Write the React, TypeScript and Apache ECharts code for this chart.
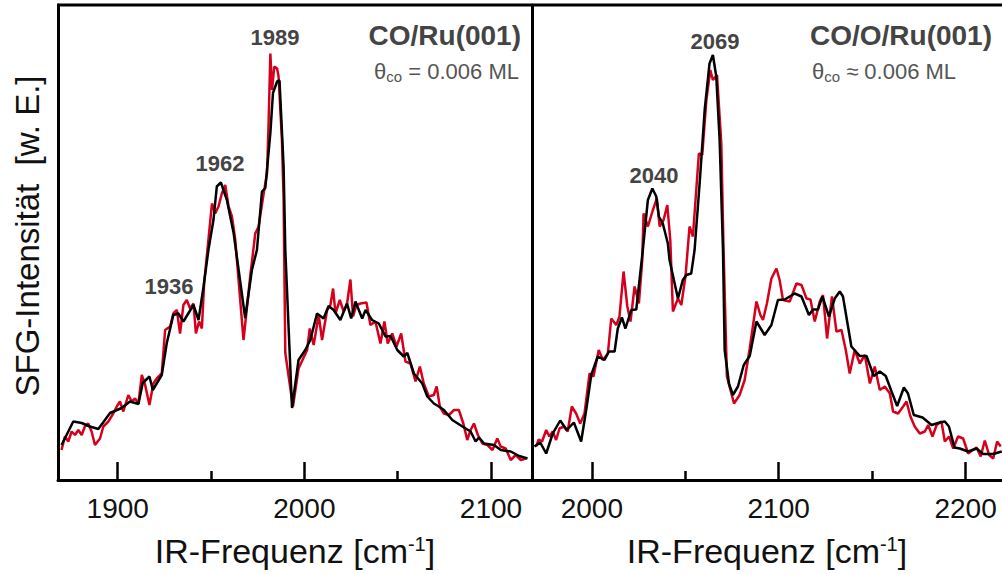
import { useEffect, useRef } from "react";
import * as echarts from "echarts";

const FONT = "'Liberation Sans', Arial, Helvetica, sans-serif";

// Left panel: CO/Ru(001)  [wavenumber cm^-1, SFG intensity a.u.]
const leftRange = [1868, 2122];
const leftMajor = [1900, 2000, 2100];
const leftMinor = [1950, 2050];
const leftRed: [number, number][] = [
  [1869.9, 6.0], [1871.7, 8.7], [1873.5, 7.7], [1875.3, 9.7], [1877.1, 9.0], [1878.9, 10.0],
  [1880.7, 9.0], [1882.4, 10.7], [1884.2, 11.3], [1886.0, 9.7], [1887.8, 7.0], [1890.5, 8.3],
  [1892.3, 10.7], [1895.0, 11.7], [1897.6, 13.3], [1899.5, 14.7], [1901.2, 15.7], [1903.0, 13.7],
  [1905.7, 17.0], [1907.5, 15.7], [1909.3, 16.3], [1911.1, 15.3], [1912.9, 21.0], [1914.7, 19.0],
  [1917.0, 15.0], [1919.1, 19.3], [1920.9, 20.3], [1923.6, 21.3], [1925.4, 30.0], [1928.1, 30.7],
  [1929.8, 33.3], [1931.7, 34.0], [1933.4, 29.3], [1935.2, 35.0], [1937.0, 36.0], [1938.8, 34.3],
  [1940.6, 35.3], [1941.9, 29.3], [1943.6, 31.7], [1945.1, 30.3], [1946.3, 39.3], [1947.8, 45.0],
  [1950.5, 55.3], [1952.2, 53.3], [1954.0, 54.7], [1955.8, 57.3], [1957.6, 59.0], [1959.4, 54.7],
  [1961.2, 52.7], [1963.0, 48.0], [1967.4, 28.0], [1971.0, 40.7], [1973.7, 49.3], [1975.5, 50.7],
  [1978.2, 57.3], [1980.0, 61.3], [1980.8, 70.7], [1981.8, 85.3], [1982.7, 78.0], [1983.9, 82.7],
  [1985.4, 82.3], [1986.2, 80.7], [1988.0, 68.0], [1988.9, 56.0], [1989.8, 25.4], [1993.9, 14.7],
  [1996.9, 22.3], [2001.5, 26.0], [2002.9, 30.3], [2005.0, 27.0], [2007.7, 33.0], [2009.5, 28.0],
  [2012.2, 34.0], [2014.0, 35.0], [2015.4, 38.3], [2016.7, 33.3], [2019.0, 36.0], [2021.1, 33.7],
  [2022.9, 35.3], [2024.7, 40.1], [2026.1, 32.7], [2027.9, 35.0], [2030.1, 35.3], [2033.3, 35.5],
  [2035.4, 31.0], [2038.1, 31.7], [2040.8, 27.3], [2042.9, 31.7], [2044.7, 27.3], [2047.1, 29.3],
  [2049.4, 26.7], [2051.9, 29.3], [2054.2, 23.7], [2056.9, 23.3], [2059.6, 19.7], [2061.9, 22.7],
  [2064.0, 19.3], [2066.7, 16.7], [2069.4, 17.0], [2070.9, 18.7], [2072.6, 14.7], [2074.8, 13.3],
  [2077.5, 13.0], [2080.2, 14.0], [2082.8, 14.0], [2085.2, 11.3], [2087.3, 8.0], [2089.1, 10.0],
  [2090.9, 11.3], [2093.0, 9.0], [2095.4, 7.3], [2098.1, 7.0], [2100.8, 6.0], [2103.4, 8.3],
  [2105.2, 6.7], [2107.9, 6.3], [2110.6, 4.0], [2113.3, 5.0], [2116.0, 4.0], [2118.7, 4.3],
];
const leftBlack: [number, number][] = [
  [1869.9, 7.0], [1876.2, 11.7], [1880.7, 11.4], [1885.1, 10.7], [1889.6, 10.2], [1895.9, 13.4],
  [1902.1, 14.4], [1906.6, 15.7], [1911.1, 15.2], [1913.4, 19.4], [1917.0, 20.7], [1918.8, 18.0],
  [1923.6, 21.0], [1926.3, 27.4], [1929.8, 33.0], [1932.5, 33.3], [1935.2, 31.7], [1940.6, 35.0],
  [1943.3, 32.0], [1946.0, 38.7], [1948.6, 46.0], [1951.3, 52.0], [1953.1, 58.7], [1955.3, 59.5],
  [1958.5, 56.0], [1962.1, 49.4], [1968.3, 32.4], [1971.9, 42.0], [1974.6, 46.0], [1977.3, 57.7],
  [1979.1, 58.4], [1981.8, 69.4], [1983.2, 77.4], [1985.4, 79.7], [1986.7, 79.9], [1988.9, 62.7],
  [1989.8, 46.0], [1993.4, 14.4], [1996.9, 24.0], [2000.5, 26.0], [2003.2, 28.0], [2006.8, 33.3],
  [2010.3, 32.3], [2013.0, 34.8], [2015.7, 34.0], [2019.3, 32.0], [2022.9, 35.3], [2025.1, 32.3],
  [2027.4, 35.7], [2031.0, 32.3], [2032.8, 34.0], [2036.3, 32.0], [2039.9, 31.3], [2043.5, 28.7],
  [2046.2, 28.8], [2049.8, 26.0], [2053.3, 24.7], [2055.2, 25.4], [2058.7, 21.3], [2063.2, 19.3],
  [2065.9, 16.7], [2069.4, 15.3], [2072.1, 14.7], [2074.8, 14.0], [2079.3, 12.0], [2084.7, 10.7],
  [2089.1, 9.7], [2091.8, 7.7], [2093.6, 8.5], [2096.3, 7.3], [2101.6, 7.0], [2105.3, 6.0],
  [2110.6, 5.7], [2115.1, 4.8], [2119.6, 4.3],
];

// Right panel: CO/O/Ru(001)
const rightRange = [1968, 2219.5];
const rightMajor = [2000, 2100, 2200];
const rightMinor = [2050, 2150];
const rightRed: [number, number][] = [
  [1970.2, 6.7], [1971.6, 8.1], [1973.4, 7.7], [1975.6, 10.0], [1977.3, 8.7], [1979.1, 9.7],
  [1980.9, 8.0], [1982.7, 10.3], [1985.0, 10.7], [1987.1, 9.7], [1989.3, 14.7], [1991.6, 13.3],
  [1993.8, 11.3], [1996.1, 13.3], [1998.8, 21.3], [2000.9, 20.7], [2003.7, 26.0], [2005.9, 24.0],
  [2008.6, 25.3], [2010.4, 32.3], [2013.1, 31.0], [2014.8, 32.7], [2017.0, 41.7], [2019.0, 34.7],
  [2020.7, 31.7], [2022.9, 38.7], [2025.2, 35.3], [2027.0, 44.0], [2027.7, 53.3], [2030.0, 50.7],
  [2032.7, 54.0], [2034.8, 56.3], [2036.3, 50.7], [2038.4, 52.0], [2040.4, 55.0], [2042.0, 48.0],
  [2043.4, 33.7], [2046.1, 36.3], [2047.9, 35.0], [2050.2, 41.0], [2052.3, 50.7], [2054.1, 48.7],
  [2057.3, 65.3], [2059.1, 65.0], [2061.3, 76.0], [2063.4, 82.0], [2064.8, 80.0], [2067.0, 81.0],
  [2069.3, 67.3], [2070.5, 46.0], [2072.3, 20.7], [2076.1, 15.3], [2079.1, 17.0], [2081.8, 20.0],
  [2084.5, 26.3], [2088.1, 35.7], [2090.2, 33.0], [2091.6, 32.0], [2093.7, 35.3], [2096.1, 40.3],
  [2098.8, 42.3], [2100.5, 40.0], [2102.3, 36.0], [2105.9, 35.7], [2109.5, 39.3], [2112.2, 39.0],
  [2114.9, 36.3], [2117.0, 36.1], [2119.3, 31.7], [2122.0, 35.7], [2123.7, 37.0], [2125.9, 28.3],
  [2128.5, 36.7], [2130.9, 29.7], [2133.6, 30.0], [2135.9, 26.0], [2138.0, 21.3], [2140.7, 26.0],
  [2143.4, 23.3], [2146.1, 25.0], [2148.8, 19.3], [2151.4, 22.7], [2154.1, 18.0], [2156.8, 18.7],
  [2159.5, 17.3], [2161.2, 13.7], [2163.9, 13.3], [2166.6, 14.7], [2168.4, 15.7], [2170.5, 12.7],
  [2172.8, 10.7], [2175.5, 9.3], [2178.2, 9.7], [2180.0, 11.0], [2182.3, 8.7], [2184.5, 11.0],
  [2187.1, 11.7], [2188.9, 7.7], [2191.2, 8.7], [2193.4, 6.3], [2196.0, 8.7], [2198.7, 8.3],
  [2201.4, 5.3], [2203.8, 6.0], [2205.9, 6.5], [2208.1, 4.7], [2210.3, 7.9], [2212.6, 5.0],
  [2214.8, 4.3], [2216.9, 7.7], [2218.8, 6.7],
];
const rightBlack: [number, number][] = [
  [1969.3, 6.7], [1972.4, 7.5], [1975.6, 5.3], [1979.1, 9.3], [1983.1, 11.9], [1986.6, 10.0],
  [1990.4, 11.5], [1994.3, 7.7], [1997.0, 14.0], [1999.7, 21.0], [2003.2, 24.7], [2006.8, 24.0],
  [2009.1, 25.7], [2012.2, 25.7], [2013.9, 30.3], [2016.1, 32.5], [2018.0, 30.3], [2021.1, 34.0],
  [2023.8, 34.1], [2027.3, 46.0], [2030.0, 56.0], [2032.4, 58.3], [2034.5, 56.7], [2035.9, 52.7],
  [2038.0, 51.3], [2040.7, 47.3], [2041.6, 44.0], [2046.1, 36.3], [2048.7, 40.0], [2050.6, 41.0],
  [2053.2, 41.3], [2055.0, 46.0], [2057.7, 59.3], [2060.4, 74.0], [2063.0, 83.3], [2064.8, 85.0],
  [2066.6, 80.7], [2068.4, 68.0], [2070.2, 46.0], [2071.1, 26.0], [2073.4, 19.3], [2075.5, 17.0],
  [2078.2, 18.7], [2081.3, 23.0], [2084.5, 24.8], [2088.1, 31.7], [2092.5, 29.0], [2096.1, 31.0],
  [2099.6, 36.0], [2103.2, 36.1], [2108.6, 37.3], [2112.2, 36.7], [2116.2, 33.0], [2118.4, 34.1],
  [2121.0, 34.1], [2123.4, 36.7], [2126.9, 32.7], [2130.0, 36.3], [2132.7, 37.7], [2134.4, 36.7],
  [2138.9, 26.7], [2143.4, 24.8], [2147.0, 24.8], [2150.9, 20.8], [2154.1, 21.7], [2157.3, 20.8],
  [2160.4, 17.7], [2163.4, 14.8], [2167.0, 18.5], [2169.2, 17.3], [2172.3, 13.0], [2177.0, 12.5],
  [2181.8, 11.0], [2186.2, 11.5], [2188.9, 11.7], [2191.1, 10.7], [2194.1, 6.5], [2196.9, 6.3],
  [2201.4, 5.7], [2205.9, 6.3], [2209.4, 5.2], [2214.8, 5.2], [2219.4, 5.7],
];

const yMax = 95;
const RED = "#d7001c";
const TXT = "#111";
const LABEL = "#444";

const axisName = "{a|IR-Frequenz [cm}{s|-1}{a|]}";
const nameRich = {
  a: { fontSize: 34, fontFamily: FONT, color: TXT, lineHeight: 40, verticalAlign: "top" },
  s: { fontSize: 20, fontFamily: FONT, color: TXT, lineHeight: 26, verticalAlign: "top" },
};

function majorAxis(grid: number, range: number[], ticks: number[]) {
  return {
    gridIndex: grid,
    type: "value",
    position: "bottom",
    min: range[0],
    max: range[1],
    axisLine: { show: true, onZero: false, lineStyle: { color: "#000", width: 3 } },
    axisTick: { show: true, inside: true, length: 18, customValues: ticks, lineStyle: { color: "#000", width: 2.5 } },
    axisLabel: { show: true, customValues: ticks, margin: 14, fontSize: 28, color: TXT, fontFamily: FONT, formatter: (v: number) => String(v) },
    splitLine: { show: false },
    name: axisName,
    nameLocation: "middle",
    nameGap: 54,
    nameTextStyle: { rich: nameRich },
  };
}
function minorAxis(grid: number, range: number[], ticks: number[]) {
  return {
    gridIndex: grid,
    type: "value",
    position: "bottom",
    min: range[0],
    max: range[1],
    axisLine: { show: false, onZero: false },
    axisTick: { show: true, inside: true, length: 9, customValues: ticks, lineStyle: { color: "#000", width: 2.5 } },
    axisLabel: { show: false },
    splitLine: { show: false },
  };
}
function yAx(grid: number) {
  return {
    gridIndex: grid,
    type: "value",
    min: 0,
    max: yMax,
    axisLine: { show: true, lineStyle: { color: "#000", width: 3 } },
    axisTick: { show: false },
    axisLabel: { show: false },
    splitLine: { show: false },
  };
}

function peak(text: string, x: number, y: number) {
  return {
    type: "text",
    x,
    y,
    style: { text, fill: LABEL, fontSize: 22, fontWeight: "bold", fontFamily: FONT, align: "center", verticalAlign: "middle" },
  };
}

function theta(op: string, x: number, y: number, align: string) {
  return {
    type: "text",
    x,
    y,
    style: {
      text: `{t|θ}{s|co}{t|\u00a0${op} 0.006 ML}`,
      align,
      verticalAlign: "middle",
      rich: {
        t: { fontSize: 22, fontFamily: FONT, fill: "#555", lineHeight: 24, verticalAlign: "top" },
        s: { fontSize: 15, fontFamily: FONT, fill: "#555", lineHeight: 24, verticalAlign: "bottom" },
      },
    },
  };
}

export default function App() {
  const ref = useRef<HTMLDivElement>(null);
  useEffect(() => {
    const chart = echarts.init(ref.current!, null, { renderer: "svg" });
    const line = (data: [number, number][], xi: number, yi: number, color: string) => ({
      type: "line",
      xAxisIndex: xi,
      yAxisIndex: yi,
      data,
      showSymbol: false,
      symbol: "none",
      lineStyle: { color, width: 2.5 },
      silent: true,
    });
    chart.setOption({
      animation: false,
      backgroundColor: "#fff",
      grid: [
        { left: 58, top: 5, width: 474, height: 475 },
        { left: 532, top: 5, width: 470, height: 475 },
      ],
      xAxis: [
        majorAxis(0, leftRange, leftMajor),
        minorAxis(0, leftRange, leftMinor),
        majorAxis(1, rightRange, rightMajor),
        minorAxis(1, rightRange, rightMinor),
      ],
      yAxis: [yAx(0), yAx(1)],
      series: [
        line(leftRed, 0, 0, RED),
        line(leftBlack, 0, 0, "#000"),
        line(rightRed, 2, 1, RED),
        line(rightBlack, 2, 1, "#000"),
      ],
      graphic: [
        { type: "line", shape: { x1: 57, y1: 5, x2: 1002, y2: 5 }, style: { stroke: "#000", lineWidth: 3 } },
        {
          type: "text",
          x: 27,
          y: 236,
          rotation: Math.PI / 2,
          style: { text: "SFG-Intensität\u00a0\u00a0[w.\u00a0E.]", fill: TXT, fontSize: 33, fontFamily: FONT, align: "center", verticalAlign: "middle" },
        },
        peak("1989", 275, 37),
        peak("1962", 220, 163),
        peak("1936", 169, 286),
        peak("2040", 654, 175),
        peak("2069", 715, 41),
        {
          type: "text",
          x: 521,
          y: 35,
          style: { text: "CO/Ru(001)", fill: LABEL, fontSize: 28, fontWeight: "bold", fontFamily: FONT, align: "right", verticalAlign: "middle" },
        },
        {
          type: "text",
          x: 992,
          y: 35,
          style: { text: "CO/O/Ru(001)", fill: LABEL, fontSize: 28, fontWeight: "bold", fontFamily: FONT, align: "right", verticalAlign: "middle" },
        },
        theta("=", 519, 72, "right"),
        theta("≈", 812, 72, "left"),
      ],
    });
    return () => chart.dispose();
  }, []);
  return (
    <div
      ref={ref}
      style={{ position: "fixed", left: 0, top: 0, width: 1002, height: 574, background: "#fff" }}
    />
  );
}
